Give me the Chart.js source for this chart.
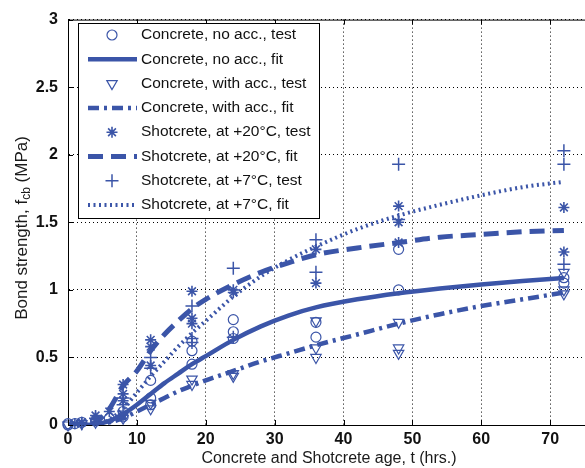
<!DOCTYPE html>
<html>
<head>
<meta charset="utf-8">
<script src="https://cdn.jsdelivr.net/npm/chart.js@4"></script>
<style>
  html, body { margin: 0; padding: 0; background: #fff; overflow: hidden; }
  #wrap { width: 585px; height: 468px; overflow: hidden; }
</style>
</head>
<body>
<div id="wrap"><canvas id="c" width="627" height="468"></canvas></div>
<script>
// Cor das séries (azul do MATLAB antigo)
const AZUL = '#3b55a8';
const FONTE = '"Liberation Sans", Arial, sans-serif';

// Curvas ajustadas (fit)
const fitT = [0, 2, 4, 6, 8, 10, 12, 14, 16, 18, 20, 24, 28, 32, 36, 42, 48, 54, 60, 66, 72];
const fitSemAcc = [0, 0, 0.005, 0.03, 0.08, 0.15, 0.23, 0.31, 0.38, 0.45, 0.51, 0.63, 0.73, 0.81, 0.87, 0.93, 0.975, 1.01, 1.04, 1.065, 1.087];
const fitComAcc = [0, 0, 0, 0.02, 0.05, 0.1, 0.15, 0.2, 0.25, 0.29, 0.33, 0.4, 0.47, 0.53, 0.59, 0.67, 0.75, 0.82, 0.88, 0.93, 0.98];
const fitShot20 = [0, 0, 0.02, 0.12, 0.29, 0.4, 0.55, 0.67, 0.77, 0.86, 0.93, 1.04, 1.13, 1.2, 1.26, 1.31, 1.35, 1.39, 1.41, 1.43, 1.44];
const fitShot7 = [0, 0, 0, 0.04, 0.12, 0.24, 0.36, 0.47, 0.58, 0.68, 0.77, 0.95, 1.1, 1.22, 1.32, 1.45, 1.55, 1.63, 1.7, 1.76, 1.8];

// Ensaios (test)
const semAccT = [0, 0, 1, 2, 4, 6, 8, 8, 12, 12, 12, 18, 18, 18, 24, 24, 24, 36, 36, 48, 48, 72, 72];
const semAccV = [0, 0.01, 0.01, 0.02, 0.03, 0.05, 0.1, 0.06, 0.33, 0.2, 0.15, 0.62, 0.55, 0.45, 0.78, 0.69, 0.64, 0.76, 0.65, 1.3, 1.0, 1.09, 1.05];
const comAccT = [0, 2, 4, 8, 8, 12, 12, 18, 18, 24, 24, 36, 36, 36, 48, 48, 48, 72, 72, 72];
const comAccV = [0, 0.01, 0.02, 0.05, 0.08, 0.16, 0.12, 0.34, 0.3, 0.38, 0.36, 0.77, 0.57, 0.5, 0.76, 0.57, 0.53, 1.13, 1.0, 0.97];
const shot20T = [1, 2, 4, 4, 6, 8, 8, 8, 12, 12, 12, 18, 18, 18, 24, 24, 36, 36, 48, 48, 48, 72, 72];
const shot20V = [0.01, 0.02, 0.07, 0.04, 0.1, 0.3, 0.23, 0.18, 0.63, 0.58, 0.44, 0.99, 0.79, 0.75, 1.0, 0.98, 1.3, 1.05, 1.62, 1.5, 1.35, 1.61, 1.28];
const shot7T = [2, 4, 8, 8, 12, 12, 18, 18, 18, 24, 24, 36, 36, 48, 48, 72, 72, 72];
const shot7V = [0.01, 0.05, 0.2, 0.15, 0.5, 0.42, 0.88, 0.64, 0.61, 1.16, 0.65, 1.37, 1.13, 1.93, 1.52, 2.03, 1.93, 1.19];

const xTicks = [0, 10, 20, 30, 40, 50, 60, 70];
const yTicks = [0, 0.5, 1, 1.5, 2, 2.5, 3];

const pares = (t, v) => t.map((x, i) => ({ x, y: v[i] }));

const estiloPontos = (label, t, v, style, extra) => Object.assign({
    label,
    data: pares(t, v),
    showLine: false,
    pointStyle: style,
    pointRadius: 5,
    pointBorderColor: AZUL,
    pointBackgroundColor: 'rgba(0,0,0,0)',
    pointBorderWidth: 1.2,
    borderColor: AZUL,
    clip: false,
}, extra || {});

const estiloLinha = (label, v, dash, width) => ({
    label,
    data: pares(fitT, v),
    showLine: true,
    borderColor: AZUL,
    borderWidth: width,
    borderDash: dash,
    pointRadius: 0,
    cubicInterpolationMode: 'monotone',
    fill: false,
});

const datasets = [
    estiloPontos('Concrete, no acc., test', semAccT, semAccV, 'circle'),
    estiloLinha('Concrete, no acc., fit', fitSemAcc, [], 4.5),
    estiloPontos('Concrete, with acc., test', comAccT, comAccV, 'triangle', { rotation: 180, pointRadius: 6 }),
    estiloLinha('Concrete, with acc., fit', fitComAcc, [11, 5, 3, 5], 4.5),
    estiloPontos('Shotcrete, at +20\u00B0C, test', shot20T, shot20V, 'star', { pointRadius: 5.5, pointBorderWidth: 1.6 }),
    estiloLinha('Shotcrete, at +20\u00B0C, fit', fitShot20, [15, 8], 5),
    estiloPontos('Shotcrete, at +7\u00B0C, test', shot7T, shot7V, 'cross', { pointRadius: 6.5, pointBorderWidth: 1.5 }),
    estiloLinha('Shotcrete, at +7\u00B0C, fit', fitShot7, [2, 3.5], 4),
];

// Moldura superior, títulos dos eixos e legenda em caixa
const extras = {
    id: 'extras',
    afterDraw(chart) {
        const ctx = chart.ctx;
        const a = chart.chartArea;
        ctx.save();
        ctx.strokeStyle = '#000';
        ctx.lineWidth = 1;
        ctx.setLineDash([]);
        ctx.beginPath();
        ctx.moveTo(a.left, a.top + 0.5);
        ctx.lineTo(a.right, a.top + 0.5);
        ctx.stroke();
        // marcas de tick para dentro
        const xs = chart.scales.x, ys = chart.scales.y;
        ctx.beginPath();
        xTicks.forEach(t => {
            const px = Math.round(xs.getPixelForValue(t)) + 0.5;
            ctx.moveTo(px, a.bottom); ctx.lineTo(px, a.bottom - 5);
            ctx.moveTo(px, a.top); ctx.lineTo(px, a.top + 5);
        });
        yTicks.forEach(v => {
            const py = Math.round(ys.getPixelForValue(v)) + 0.5;
            ctx.moveTo(a.left, py); ctx.lineTo(a.left + 5, py);
        });
        ctx.stroke();

        // título eixo x
        ctx.fillStyle = '#1a1a1a';
        ctx.font = '16px ' + FONTE;
        ctx.textAlign = 'center';
        ctx.textBaseline = 'middle';
        ctx.fillText('Concrete and Shotcrete age, t (hrs.)', 329, 459);

        // título eixo y com subscrito
        ctx.save();
        ctx.translate(22, 228);
        ctx.rotate(-Math.PI / 2);
        const p1 = 'Bond strength, f', sub = 'cb', p2 = ' (MPa)';
        ctx.font = '17px ' + FONTE;
        const w1 = ctx.measureText(p1).width, w3 = ctx.measureText(p2).width;
        ctx.font = '12px ' + FONTE;
        const w2 = ctx.measureText(sub).width;
        const x0 = -(w1 + w2 + w3) / 2;
        ctx.textAlign = 'left';
        ctx.font = '17px ' + FONTE;
        ctx.fillText(p1, x0, 0);
        ctx.font = '12px ' + FONTE;
        ctx.fillText(sub, x0 + w1, 5);
        ctx.font = '17px ' + FONTE;
        ctx.fillText(p2, x0 + w1 + w2, 0);
        ctx.restore();

        // legenda
        const bx = 78, by = 23, bw = 241, bh = 195;
        ctx.fillStyle = '#fff';
        ctx.fillRect(bx, by, bw, bh);
        ctx.strokeStyle = '#000';
        ctx.lineWidth = 1;
        ctx.strokeRect(bx + 0.5, by + 0.5, bw, bh);
        chart.data.datasets.forEach((ds, i) => {
            const yy = 35 + i * 24.3;
            if (!ds.showLine) {
                ctx.strokeStyle = AZUL;
                ctx.lineWidth = ds.pointBorderWidth;
                ctx.fillStyle = 'rgba(0,0,0,0)';
                Chart.helpers.drawPoint(ctx, {
                    pointStyle: ds.pointStyle,
                    radius: ds.pointRadius,
                    rotation: ds.rotation || 0,
                    borderWidth: ds.pointBorderWidth,
                }, 112, yy);
            } else {
                ctx.save();
                ctx.strokeStyle = AZUL;
                ctx.lineWidth = ds.borderWidth;
                ctx.setLineDash(ds.borderDash);
                ctx.beginPath();
                ctx.moveTo(88, yy);
                ctx.lineTo(137, yy);
                ctx.stroke();
                ctx.restore();
            }
            ctx.fillStyle = '#111';
            ctx.font = '15.5px ' + FONTE;
            ctx.textAlign = 'left';
            ctx.textBaseline = 'middle';
            ctx.fillText(ds.label, 141, yy);
        });
        ctx.restore();
    },
};

new Chart(document.getElementById('c'), {
    type: 'scatter',
    data: { datasets },
    options: {
        responsive: false,
        animation: false,
        layout: { padding: { top: 13, right: 0, left: 0, bottom: 0 } },
        plugins: { legend: { display: false }, tooltip: { enabled: false } },
        scales: {
            x: {
                type: 'linear',
                min: 0,
                max: 80,
                afterBuildTicks: (s) => { s.ticks = xTicks.concat([80]).map(v => ({ value: v })); },
                afterFit: (s) => { s.height = 43; },
                ticks: {
                    color: '#111',
                    font: { family: FONTE, size: 16, weight: 'bold' },
                    padding: 5,
                    maxRotation: 0,
                    callback: (v) => (v === 80 ? '' : String(v)),
                },
                grid: { color: '#000', drawTicks: false, lineWidth: 1 },
                border: { color: '#000', width: 1, dash: [1, 3] },
            },
            y: {
                type: 'linear',
                min: 0,
                max: 3,
                afterBuildTicks: (s) => { s.ticks = yTicks.map(v => ({ value: v })); },
                afterFit: (s) => { s.width = 68; },
                ticks: {
                    color: '#111',
                    font: { family: FONTE, size: 16, weight: 'bold' },
                    padding: 10,
                    callback: (v) => String(v),
                },
                grid: { color: '#000', drawTicks: false, lineWidth: 1 },
                border: { color: '#000', width: 1, dash: [1, 3] },
            },
        },
    },
    plugins: [extras],
});
</script>
</body>
</html>
